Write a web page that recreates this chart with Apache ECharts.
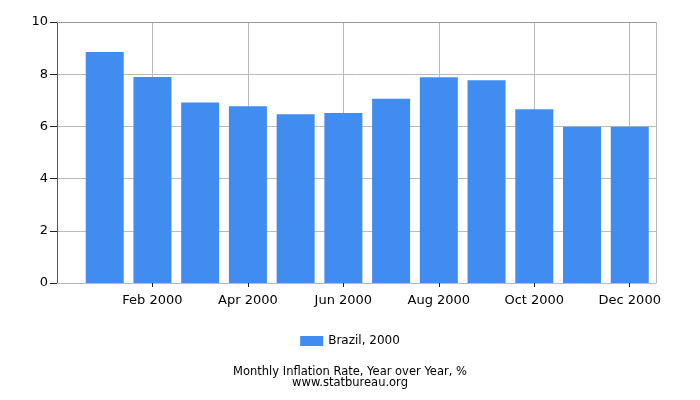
<!DOCTYPE html>
<html><head><meta charset="utf-8">
<script src="https://cdn.jsdelivr.net/npm/echarts@6/dist/echarts.min.js"></script>
<style>html,body{margin:0;padding:0;background:#fff}#c{width:700px;height:400px}</style>
</head><body><div id="c"></div>
<script>
const months = ["Jan 2000","Feb 2000","Mar 2000","Apr 2000","May 2000","Jun 2000","Jul 2000","Aug 2000","Sep 2000","Oct 2000","Nov 2000","Dec 2000"];
const inflation = [8.85, 7.89, 6.92, 6.77, 6.47, 6.51, 7.06, 7.88, 7.77, 6.66, 5.99, 5.99];
const yTicks = [0, 2, 4, 6, 8, 10];
const seriesName = "Brazil, 2000";

const chart = echarts.init(document.getElementById('c'), null, {renderer: 'canvas'});
const font = 'DejaVu Sans';
chart.setOption({
  animation: false,
  textStyle: {fontFamily: font},
  grid: {left: 57, right: 44, top: 22, bottom: 117, show: false},
  xAxis: {
    type: 'value', min: 0, max: 12.55, interval: 2,
    axisLine: {show: true, lineStyle: {color: '#bbbbbb'}},
    axisTick: {show: true, length: 4, lineStyle: {color: '#222'}},
    splitLine: {show: true, lineStyle: {color: '#bbbbbb'}},
    axisLabel: {
      color: '#000', fontSize: 13, fontFamily: font, margin: 11,
      showMinLabel: false, showMaxLabel: false,
      formatter: v => (Number.isInteger(v) && v >= 1 && v <= 12) ? months[v - 1] : ''
    }
  },
  yAxis: {
    type: 'value', min: yTicks[0], max: yTicks[yTicks.length - 1], interval: 2,
    axisLine: {show: true, lineStyle: {color: '#555'}},
    axisTick: {show: true, length: 7, lineStyle: {color: '#222'}},
    splitLine: {show: true, lineStyle: {color: '#bbbbbb'}},
    axisLabel: {color: '#000', fontSize: 13, fontFamily: font, margin: 9}
  },
  legend: {
    bottom: 48, left: 'center', itemWidth: 23, itemHeight: 10, itemGap: 5,
    textStyle: {fontSize: 12, fontFamily: font, color: '#000'},
    data: [{name: seriesName, icon: 'rect'}]
  },
  title: {
    text: 'Monthly Inflation Rate, Year over Year, %\nwww.statbureau.org',
    left: 'center', bottom: 5,
    textStyle: {fontSize: 11.5, fontWeight: 'normal', color: '#000', fontFamily: font, lineHeight: 11}
  },
  series: [{
    name: seriesName, type: 'bar', barWidth: 38,
    itemStyle: {color: '#418cf0'},
    data: inflation.map((v, i) => [i + 1, v])
  }, {
    type: 'line', data: [], silent: true,
    markLine: {
      silent: true, symbol: 'none', label: {show: false},
      lineStyle: {color: '#999', type: 'solid', width: 1},
      data: [{yAxis: 10}]
    }
  }]
});
</script></body></html>
